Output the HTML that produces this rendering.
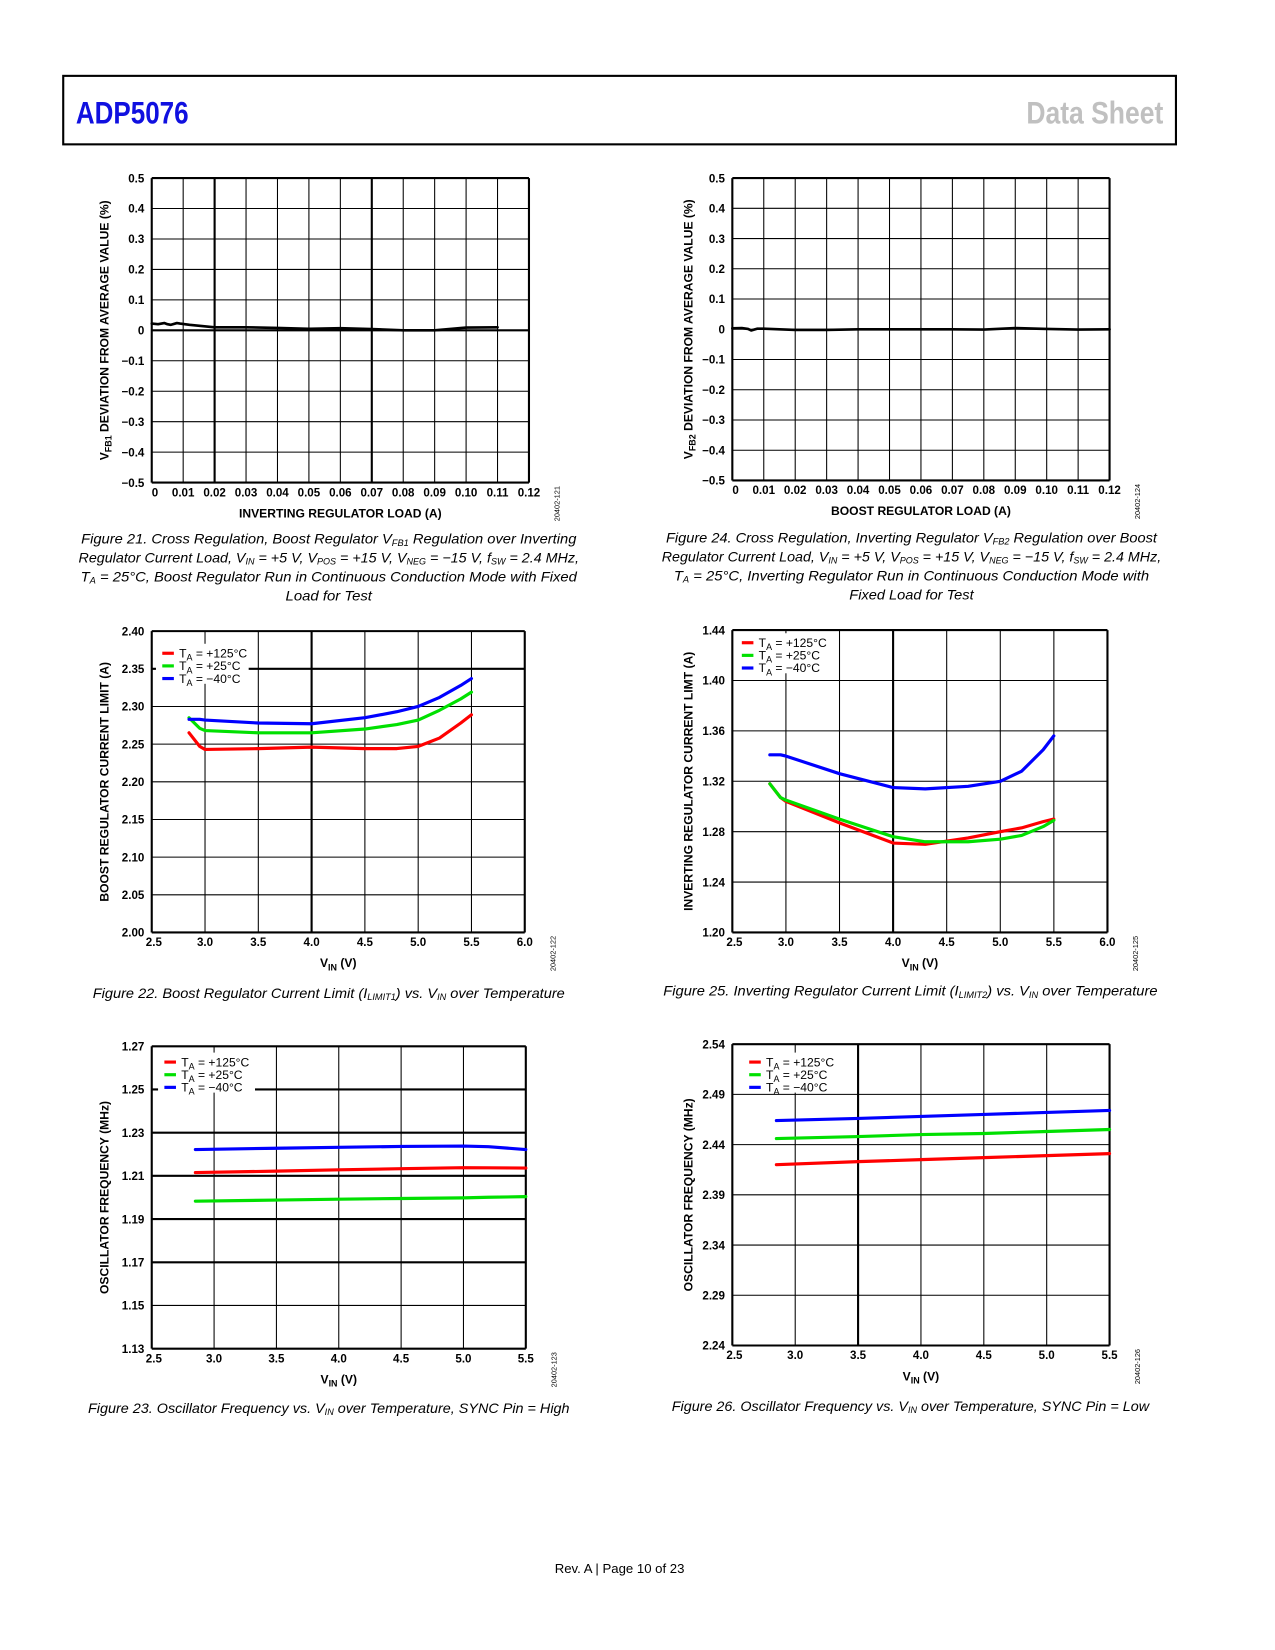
<!DOCTYPE html>
<html><head><meta charset="utf-8">
<style>
html,body{margin:0;padding:0;background:#fff;}
svg{display:block;}
text{font-family:"Liberation Sans",sans-serif;}
.tk{font-size:11px;font-weight:bold;fill:#000;}
.ti{font-size:11.5px;font-weight:bold;fill:#000;}
.cap{font-size:13.5px;font-style:italic;fill:#000;}
.lg{font-size:11.5px;fill:#000;}
.sid{font-size:7px;fill:#000;}
</style></head>
<body>
<svg id="page" width="1275" height="1650" viewBox="0 0 1210 1566" preserveAspectRatio="none" xmlns="http://www.w3.org/2000/svg">
<rect x="60" y="72" width="1056" height="65" fill="none" stroke="#000" stroke-width="2"/>
<text x="72" y="117" font-size="30" font-weight="bold" fill="#1010e0" textLength="107" lengthAdjust="spacingAndGlyphs">ADP5076</text>
<text x="1104" y="117" font-size="30" font-weight="bold" fill="#c0c0c0" text-anchor="end" textLength="130" lengthAdjust="spacingAndGlyphs">Data Sheet</text>
<text x="588" y="1493" font-size="12.5" text-anchor="middle">Rev. A | Page 10 of 23</text>
<g id="charts"></g>
</svg>
<script>
// ---- data arrays ----
const f21X = [0,0.002,0.004,0.005,0.006,0.008,0.009,0.012,0.02,0.03,0.04,0.05,0.06,0.07,0.08,0.09,0.10,0.11];
const f21Y = [0.022,0.02,0.024,0.02,0.018,0.024,0.022,0.018,0.01,0.01,0.008,0.005,0.007,0.004,0,0,0.009,0.01];
const f24X = [0,0.003,0.005,0.006,0.008,0.01,0.02,0.03,0.04,0.05,0.06,0.07,0.08,0.09,0.10,0.11,0.12];
const f24Y = [0.003,0.004,0.001,-0.004,0.002,0.002,-0.002,-0.002,0,0,0,0,-0.001,0.004,0.001,-0.001,0];
const f22X = [2.85,2.95,3.0,3.5,4.0,4.5,4.8,5.0,5.2,5.4,5.5];
const f22Red = [2.265,2.247,2.243,2.244,2.246,2.244,2.244,2.247,2.258,2.278,2.289];
const f22Green = [2.285,2.271,2.268,2.265,2.265,2.27,2.276,2.282,2.295,2.31,2.319];
const f22Blue = [2.283,2.283,2.282,2.278,2.277,2.285,2.293,2.30,2.312,2.328,2.337];
const f25X = [2.85,2.95,3.0,3.5,4.0,4.3,4.7,5.0,5.2,5.4,5.5];
const f25Red = [1.318,1.307,1.304,1.287,1.271,1.270,1.275,1.280,1.283,1.288,1.290];
const f25Green = [1.318,1.307,1.305,1.290,1.276,1.272,1.272,1.274,1.277,1.284,1.289];
const f25Blue = [1.341,1.341,1.340,1.326,1.315,1.314,1.316,1.320,1.328,1.345,1.356];
const f23X = [2.85,3.5,4.0,4.5,5.0,5.2,5.5];
const f23Red = [1.2115,1.2122,1.2128,1.2133,1.2138,1.2137,1.2136];
const f23Green = [1.1983,1.1988,1.1992,1.1995,1.1998,1.2001,1.2004];
const f23Blue = [1.2222,1.2228,1.2232,1.2236,1.2238,1.2235,1.2222];
const f26X = [2.85,3.5,4.0,4.5,5.0,5.5];
const f26Red = [2.420,2.423,2.425,2.427,2.429,2.431];
const f26Green = [2.446,2.448,2.450,2.451,2.453,2.455];
const f26Blue = [2.464,2.466,2.468,2.470,2.472,2.474];
const legendLabels = ["+125°C","+25°C","\u221240°C"];
const seriesColors = ["#ff0000","#00e000","#0000ff"];

const NS="http://www.w3.org/2000/svg";
const root=document.getElementById('charts');
function mk(tag,attrs,parent){const e=document.createElementNS(NS,tag);for(const k in attrs)e.setAttribute(k,attrs[k]);(parent||root).appendChild(e);return e;}
function fmtNum(v,d,zeroPlain){if(zeroPlain&&Math.abs(v)<1e-9)return '0';let s=v.toFixed(d);if(v<-1e-9)s='\u2212'+(-v).toFixed(d);return s;}
function near(a,b){return Math.abs(a-b)<1e-9;}

function chart(c){
  const g=mk('g',{});
  
  
  const X=v=>c.x0+(v-c.xmin)/(c.xmax-c.xmin)*(c.x1-c.x0);
  const Y=v=>c.y1-(v-c.ymin)/(c.ymax-c.ymin)*(c.y1-c.y0);
  const nx=Math.round((c.xmax-c.xmin)/c.xstep), ny=Math.round((c.ymax-c.ymin)/c.ystep);
  for(let i=0;i<=nx;i++){
    const v=c.xmin+i*c.xstep;
    const thick=(c.thickX||[]).some(t=>near(t,v))||i===0||i===nx;
    const l=mk('line',{x1:X(v),x2:X(v),y1:c.y0,y2:c.y1,stroke:'#000','stroke-width':thick?2:1},g);
    
    
    const t=mk('text',{x:X(v)+(i===0&&!c.firstStart?2:0),y:c.y1+13,'text-anchor':(i===0&&c.firstStart)?'start':'middle',class:'tk'},g);
    t.textContent=c.xlabel(v,i);
    
    
  }
  for(let j=0;j<=ny;j++){
    const v=c.ymin+j*c.ystep;
    const thick=(c.thickY||[]).some(t=>near(t,v))||j===0||j===ny;
    const l=mk('line',{x1:c.x0,x2:c.x1,y1:Y(v),y2:Y(v),stroke:'#000','stroke-width':thick?2:1},g);
    
    
    const t=mk('text',{x:c.x0-7,y:Y(v)+4,'text-anchor':'end',class:'tk'},g);
    t.textContent=fmtNum(v,c.yd,c.zeroPlain);
    
    
  }
  if(c.legend){
    const L=c.legend;
    const bg=mk('rect',{x:L.x,y:L.y,width:L.w,height:L.h,fill:'#fff'},g);
    
    
    for(let k=0;k<3;k++){
      const yy=L.y+9+k*12;
      const sw=mk('line',{x1:L.x+6,x2:L.x+17,y1:yy,y2:yy,stroke:seriesColors[k],'stroke-width':3},g);
      
      
      const t=mk('text',{x:L.x+22,y:yy+4,class:'lg'},g);
      t.innerHTML='T<tspan font-size="8.5" dy="3">A</tspan><tspan dy="-3"> = '+legendLabels[k]+'</tspan>';
      
      
    }
  }
  c.series.forEach((s,k)=>{
    let d='';
    s.x.forEach((xv,i)=>{d+=(i?'L':'M')+X(xv).toFixed(1)+','+Y(s.y[i]).toFixed(1);});
    const p=mk('path',{d:d,fill:'none',stroke:s.color,'stroke-width':s.w||3,'stroke-linejoin':'round','stroke-linecap':'round'},g);
    
    
  });
  const xt=mk('text',{x:(c.x0+c.x1)/2,y:c.y1+33,'text-anchor':'middle',class:'ti'},g);
  xt.innerHTML=c.xtitle;
  
  
  const cy=(c.y0+c.y1)/2+(c.ytOff||0);
  const yt=mk('text',{x:c.ytx,y:cy,'text-anchor':'middle',class:'ti',transform:'rotate(-90 '+c.ytx+' '+cy+')'},g);
  yt.innerHTML=c.ytitle;
  
  
  const sid=mk('text',{x:c.x1+29,y:c.y1+20,'text-anchor':'middle',class:'sid',transform:'rotate(-90 '+(c.x1+29)+' '+(c.y1+20)+')'},g);
  sid.textContent=c.sid;
  
  
  c.caption.forEach((line,i)=>{
    const t=mk('text',{x:c.capx,y:c.capy+i*18,'text-anchor':'middle',class:'cap',textLength:line[1],lengthAdjust:'spacingAndGlyphs'},g);
    t.innerHTML=line[0];
    
    
  });
}
const sub=s=>'<tspan font-size="8.5" dy="2">'+s+'</tspan><tspan dy="-2">';
const vinTitle='V<tspan font-size="8.5" dy="3">IN</tspan><tspan dy="-3"> (V)</tspan>';
function three(xs,r,gr,b){return [{x:xs,y:r,color:seriesColors[0],name:'series-125c'},{x:xs,y:gr,color:seriesColors[1],name:'series-25c'},{x:xs,y:b,color:seriesColors[2],name:'series-minus40c'}];}

chart({name:'figure-21-chart',x0:144,x1:502,y0:169,y1:458,xmin:0,xmax:0.12,xstep:0.01,ymin:-0.5,ymax:0.5,ystep:0.1,yd:1,zeroPlain:true,firstStart:true,
  thickX:[0.02,0.07],thickY:[0],xlabel:(v,i)=>i===0?'0':v.toFixed(2),
  xtitle:'INVERTING REGULATOR LOAD (A)',ytx:103,ytitle:'V<tspan font-size="8.5" dy="3">FB1</tspan><tspan dy="-3"> DEVIATION FROM AVERAGE VALUE (%)</tspan>',sid:'20402-121',
  series:[{x:f21X,y:f21Y,color:'#000',name:'series-vfb1-deviation',w:2.5}],
  capx:312,capy:516,caption:[['Figure 21. Cross Regulation, Boost Regulator V'+sub('FB1')+' Regulation over Inverting</tspan>',470],['Regulator Current Load, V'+sub('IN')+' = +5 V, V</tspan>'+sub('POS')+' = +15 V, V</tspan>'+sub('NEG')+' = \u221215 V, f</tspan>'+sub('SW')+' = 2.4 MHz,</tspan>',475],['T'+sub('A')+' = 25°C, Boost Regulator Run in Continuous Conduction Mode with Fixed</tspan>',471],['Load for Test',82]]});

chart({name:'figure-24-chart',x0:695,x1:1053,y0:169,y1:456,xmin:0,xmax:0.12,xstep:0.01,ymin:-0.5,ymax:0.5,ystep:0.1,yd:1,zeroPlain:true,firstStart:true,
  thickX:[],thickY:[],xlabel:(v,i)=>i===0?'0':v.toFixed(2),
  xtitle:'BOOST REGULATOR LOAD (A)',ytx:657,ytitle:'V<tspan font-size="8.5" dy="3">FB2</tspan><tspan dy="-3"> DEVIATION FROM AVERAGE VALUE (%)</tspan>',sid:'20402-124',
  series:[{x:f24X,y:f24Y,color:'#000',name:'series-vfb2-deviation',w:2.5}],
  capx:865,capy:515,caption:[['Figure 24. Cross Regulation, Inverting Regulator V'+sub('FB2')+' Regulation over Boost</tspan>',466],['Regulator Current Load, V'+sub('IN')+' = +5 V, V</tspan>'+sub('POS')+' = +15 V, V</tspan>'+sub('NEG')+' = \u221215 V, f</tspan>'+sub('SW')+' = 2.4 MHz,</tspan>',474],['T'+sub('A')+' = 25°C, Inverting Regulator Run in Continuous Conduction Mode with</tspan>',451],['Fixed Load for Test',118]]});

chart({name:'figure-22-chart',x0:144,x1:498,y0:599,y1:885,xmin:2.5,xmax:6.0,xstep:0.5,ymin:2.0,ymax:2.4,ystep:0.05,yd:2,
  thickX:[4.0],thickY:[2.35],xlabel:v=>v.toFixed(1),legend:{x:148,y:611,w:88,h:38},
  xtitle:vinTitle,ytx:103,ytitle:'BOOST REGULATOR CURRENT LIMIT (A)',sid:'20402-122',
  series:three(f22X,f22Red,f22Green,f22Blue),
  capx:312,capy:947,caption:[['Figure 22. Boost Regulator Current Limit (I'+sub('LIMIT1')+') vs. V</tspan>'+sub('IN')+' over Temperature</tspan>',448]]});

chart({name:'figure-25-chart',x0:695,x1:1051,y0:598,y1:885,xmin:2.5,xmax:6.0,xstep:0.5,ymin:1.20,ymax:1.44,ystep:0.04,yd:2,
  thickX:[4.0],thickY:[],xlabel:v=>v.toFixed(1),legend:{x:698,y:601,w:90,h:38},
  xtitle:vinTitle,ytx:657,ytitle:'INVERTING REGULATOR CURRENT LIMT (A)',sid:'20402-125',
  series:three(f25X,f25Red,f25Green,f25Blue),
  capx:864,capy:945,caption:[['Figure 25. Inverting Regulator Current Limit (I'+sub('LIMIT2')+') vs. V</tspan>'+sub('IN')+' over Temperature</tspan>',469]]});

chart({name:'figure-23-chart',x0:144,x1:499,y0:993,y1:1280,xmin:2.5,xmax:5.5,xstep:0.5,ymin:1.13,ymax:1.27,ystep:0.02,yd:2,
  thickX:[],thickY:[1.25,1.23,1.21,1.19,1.17],xlabel:v=>v.toFixed(1),legend:{x:150,y:999,w:92,h:38},
  xtitle:vinTitle,ytx:103,ytitle:'OSCILLATOR FREQUENCY (MHz)',sid:'20402-123',
  series:three(f23X,f23Red,f23Green,f23Blue),
  capx:312,capy:1341,caption:[['Figure 23. Oscillator Frequency vs. V'+sub('IN')+' over Temperature, SYNC Pin = High</tspan>',457]]});

chart({name:'figure-26-chart',x0:695,x1:1053,y0:991,y1:1277,xmin:2.5,xmax:5.5,xstep:0.5,ymin:2.24,ymax:2.54,ystep:0.05,yd:2,
  thickX:[3.5],thickY:[],xlabel:v=>v.toFixed(1),legend:{x:705,y:999,w:92,h:38},
  xtitle:vinTitle,ytx:657,ytitle:'OSCILLATOR FREQUENCY (MHz)',sid:'20402-126',
  series:three(f26X,f26Red,f26Green,f26Blue),
  capx:864,capy:1339,caption:[['Figure 26. Oscillator Frequency vs. V'+sub('IN')+' over Temperature, SYNC Pin = Low</tspan>',453]]});
</script>
</body></html>
